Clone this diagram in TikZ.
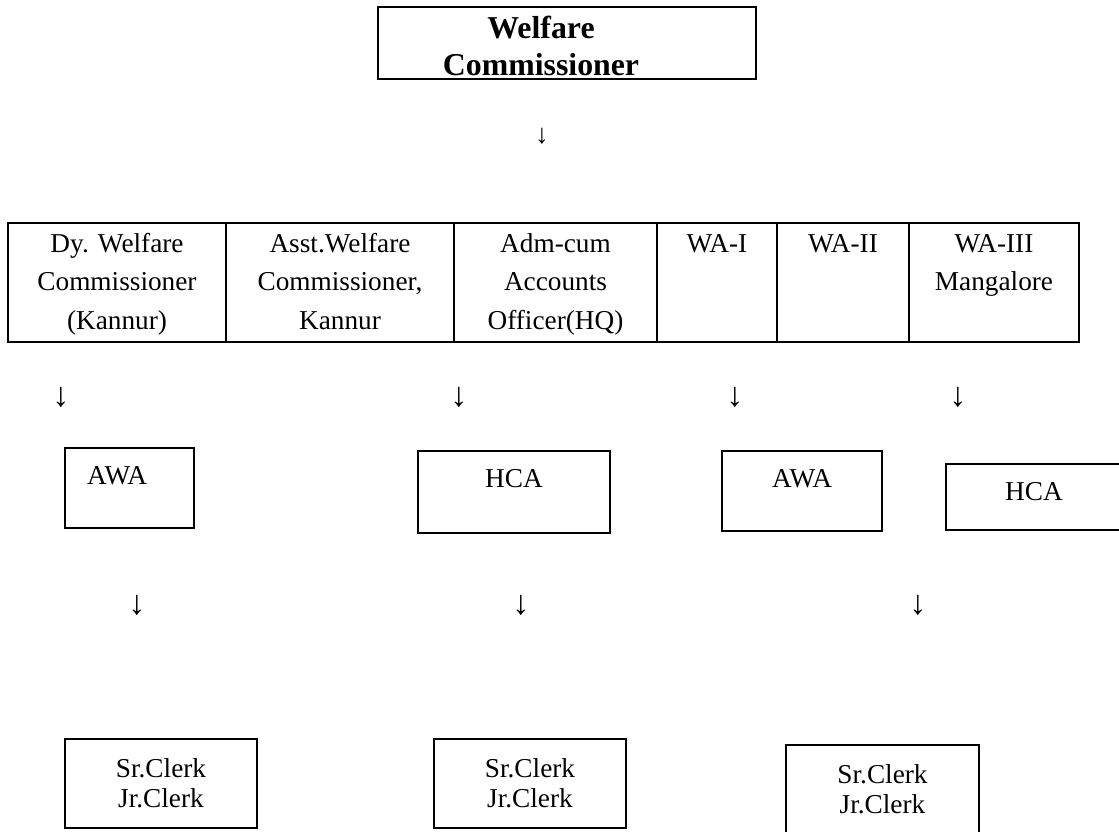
\documentclass[tikz,border=0pt]{standalone}
\usepackage{fontspec}
\setmainfont{Liberation Serif}
\usetikzlibrary{positioning}
\newcommand{\pxu}{0.44pt}

\begin{document}
\begin{tikzpicture} [x = 0.44pt, y = -0.44pt,
  box/.style = {draw, black, line width = 0.85pt, inner sep = 0pt},
  cell/.style = {box, minimum height = 119*\pxu},
  celltext/.style = {inner sep = 0pt, anchor = north, align = center, font = \fontsize{12}{16.9}\selectfont},
  rank/.style = {box, font = \fontsize{12}{14}\selectfont, text height = 15.84pt},
  clerk/.style = {box, align = center, font = \fontsize{12}{13.2}\selectfont},
  downarrow/.style = {inner sep = 0pt, font = \fontsize{15}{18}\selectfont}]
\useasboundingbox (0, 0) rectangle (1119, 831);
\node[box, minimum width = 378*\pxu, minimum height = 72*\pxu] (wcbox) at (567, 43) {};
\node[celltext, font = \fontsize{14}{16.3}\selectfont\bfseries] (wc) at (541, 14) {\rule{0pt}{10.56pt}Welfare\\Commissioner};
\node[downarrow, font = \fontsize{12}{14}\selectfont] (a0) at (542, 136) {↓};
\node[cell, minimum width = 218*\pxu] (dwc) at (117, 282.5) {};
\node[cell, minimum width = 228*\pxu] (awc) at (340, 282.5) {};
\node[cell, minimum width = 203*\pxu] (aao) at (555.5, 282.5) {};
\node[cell, minimum width = 120*\pxu] (waone) at (717, 282.5) {};
\node[cell, minimum width = 132*\pxu] (watwo) at (843, 282.5) {};
\node[cell, minimum width = 170*\pxu] (wathree) at (994, 282.5) {};
\node[celltext, below = 2.64pt of dwc.north] (dwct) {\rule{0pt}{10.56pt}Dy. Welfare\\Commissioner\\(Kannur)};
\node[celltext, below = 2.64pt of awc.north] (awct) {\rule{0pt}{10.56pt}Asst.Welfare\\Commissioner,\\Kannur};
\node[celltext, below = 2.64pt of aao.north] (aaot) {\rule{0pt}{10.56pt}Adm-cum\\Accounts\\Officer(HQ)};
\node[celltext, below = 2.64pt of waone.north] (waonet) {\rule{0pt}{10.56pt}WA-I};
\node[celltext, below = 2.64pt of watwo.north] (watwot) {\rule{0pt}{10.56pt}WA-II};
\node[celltext, below = 2.64pt of wathree.north] (wathreet) {\rule{0pt}{10.56pt}WA-III\\Mangalore};
\node[downarrow] (a1) at (61, 397) {↓};
\node[downarrow] (a2) at (459, 397) {↓};
\node[downarrow] (a3) at (735, 397) {↓};
\node[downarrow] (a4) at (958, 397) {↓};
\node[rank, text depth = 19.36pt, inner xsep = 9.68pt, text width = 37.4pt, align = left] (awaone) at (129.5, 488) {AWA};
\node[rank, text depth = 20.24pt, minimum width = 192*\pxu] (hcaone) at (514, 492) {HCA};
\node[rank, text depth = 19.36pt, minimum width = 160*\pxu] (awatwo) at (802, 491) {AWA};
\node[rank, text depth = 13.2pt, minimum width = 176*\pxu] (hcatwo) at (1034, 497) {HCA};
\node[downarrow] (b1) at (137, 605) {↓};
\node[downarrow] (b2) at (521, 605) {↓};
\node[downarrow] (b3) at (918, 605) {↓};
\node[clerk, minimum width = 192*\pxu, minimum height = 89*\pxu] (clone) at (161, 783.5) {Sr.Clerk\\Jr.Clerk};
\node[clerk, minimum width = 192*\pxu, minimum height = 89*\pxu] (cltwo) at (530, 783.5) {Sr.Clerk\\Jr.Clerk};
\node[clerk, minimum width = 193*\pxu, minimum height = 88*\pxu] (clthree) at (882.5, 789) {Sr.Clerk\\Jr.Clerk};
\end{tikzpicture}
\end{document}
